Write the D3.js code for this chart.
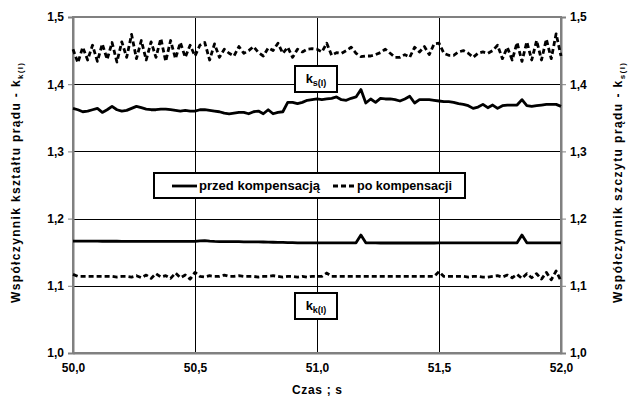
<!DOCTYPE html>
<html lang="pl">
<head>
<meta charset="UTF-8">
<title>Współczynniki prądu</title>
<script src="https://cdn.jsdelivr.net/npm/d3@7"></script>
<style>
    body { margin: 0; background: #fff; }
    text { font-family: 'Liberation Sans', Arial, sans-serif; font-weight: bold; fill: #000; }
</style>
</head>
<body>
<div id="chart"></div>
<script>
// time axis: samples every 0.02 s from 50.0 to 52.0
const czas = d3.range(101).map(i => +(50 + i * 0.02).toFixed(2))

// k_s(I) - crest factor
const ksPrzed = [
    1.364, 1.362, 1.359, 1.360, 1.362, 1.364, 1.358, 1.362, 1.367, 1.362,
    1.360, 1.361, 1.364, 1.367, 1.365, 1.363, 1.362, 1.362, 1.363, 1.363,
    1.362, 1.361, 1.360, 1.361, 1.360, 1.360, 1.362, 1.362, 1.361, 1.360,
    1.359, 1.357, 1.356, 1.357, 1.358, 1.358, 1.356, 1.359, 1.360, 1.356,
    1.362, 1.356, 1.358, 1.359, 1.373, 1.373, 1.371, 1.373, 1.376, 1.377,
    1.378, 1.377, 1.378, 1.379, 1.381, 1.377, 1.376, 1.379, 1.381, 1.392,
    1.372, 1.378, 1.373, 1.379, 1.378, 1.378, 1.377, 1.375, 1.378, 1.382,
    1.372, 1.377, 1.377, 1.377, 1.376, 1.375, 1.374, 1.374, 1.373, 1.371,
    1.370, 1.368, 1.364, 1.366, 1.370, 1.365, 1.369, 1.364, 1.368, 1.369,
    1.369, 1.369, 1.377, 1.368, 1.367, 1.368, 1.369, 1.370, 1.370, 1.370,
    1.367
]
const ksPo = [
    1.452, 1.432, 1.455, 1.436, 1.458, 1.434, 1.460, 1.437, 1.462, 1.433,
    1.463, 1.440, 1.474, 1.438, 1.465, 1.436, 1.463, 1.440, 1.468, 1.434,
    1.465, 1.438, 1.462, 1.440, 1.458, 1.442, 1.458, 1.462, 1.436, 1.460,
    1.440, 1.452, 1.446, 1.442, 1.456, 1.446, 1.450, 1.456, 1.447, 1.442,
    1.454, 1.450, 1.461, 1.446, 1.455, 1.440, 1.452, 1.448, 1.452, 1.453,
    1.452, 1.448, 1.461, 1.443, 1.447, 1.446, 1.450, 1.455, 1.446, 1.441,
    1.442, 1.442, 1.444, 1.447, 1.452, 1.446, 1.440, 1.440, 1.444, 1.440,
    1.455, 1.448, 1.456, 1.444, 1.460, 1.461, 1.446, 1.443, 1.443, 1.448,
    1.450, 1.446, 1.440, 1.446, 1.448, 1.446, 1.450, 1.458, 1.438, 1.455,
    1.436, 1.462, 1.434, 1.463, 1.436, 1.465, 1.436, 1.467, 1.438, 1.475,
    1.442
]

// k_k(I) - form factor
const kkPrzed = [
    1.1665, 1.1665, 1.1664, 1.1664, 1.1664, 1.1664, 1.1663, 1.1663, 1.1663, 1.1663,
    1.1662, 1.1662, 1.1662, 1.1662, 1.1662, 1.1661, 1.1661, 1.1661, 1.1661, 1.1661,
    1.1660, 1.1660, 1.1660, 1.1660, 1.1660, 1.1662, 1.1668, 1.1672, 1.1664, 1.1660,
    1.1658, 1.1658, 1.1657, 1.1657, 1.1656, 1.1655, 1.1655, 1.1654, 1.1653, 1.1652,
    1.1650, 1.1648, 1.1646, 1.1645, 1.1643, 1.1642, 1.1640, 1.1640, 1.1639, 1.1638,
    1.1638, 1.1638, 1.1638, 1.1638, 1.1638, 1.1638, 1.1638, 1.1638, 1.1640, 1.1755,
    1.1640, 1.1638, 1.1638, 1.1637, 1.1637, 1.1637, 1.1637, 1.1637, 1.1637, 1.1637,
    1.1637, 1.1637, 1.1637, 1.1637, 1.1637, 1.1638, 1.1638, 1.1638, 1.1638, 1.1638,
    1.1638, 1.1638, 1.1638, 1.1638, 1.1638, 1.1638, 1.1638, 1.1638, 1.1638, 1.1638,
    1.1638, 1.1640, 1.1755, 1.1640, 1.1638, 1.1638, 1.1638, 1.1638, 1.1638, 1.1638,
    1.1638
]
const kkPo = [
    1.117, 1.114, 1.114, 1.114, 1.114, 1.114, 1.114, 1.114, 1.114, 1.113,
    1.114, 1.114, 1.113, 1.115, 1.112, 1.116, 1.111, 1.118, 1.113, 1.115,
    1.111, 1.119, 1.112, 1.116, 1.110, 1.120, 1.114, 1.113, 1.115, 1.114,
    1.114, 1.116, 1.114, 1.114, 1.115, 1.114, 1.114, 1.114, 1.113, 1.114,
    1.114, 1.115, 1.114, 1.113, 1.114, 1.114, 1.113, 1.114, 1.113, 1.114,
    1.114, 1.114, 1.119, 1.114, 1.114, 1.114, 1.114, 1.114, 1.114, 1.114,
    1.114, 1.114, 1.114, 1.114, 1.114, 1.114, 1.114, 1.114, 1.114, 1.114,
    1.114, 1.114, 1.114, 1.114, 1.114, 1.121, 1.114, 1.114, 1.114, 1.114,
    1.114, 1.113, 1.114, 1.114, 1.113, 1.113, 1.114, 1.115, 1.113, 1.116,
    1.112, 1.117, 1.111, 1.118, 1.112, 1.118, 1.110, 1.120, 1.109, 1.122,
    1.107
]

const xTicks = [50.0, 50.5, 51.0, 51.5, 52.0]
const yTicks = [1.0, 1.1, 1.2, 1.3, 1.4, 1.5]
const legendLabels = ["przed kompensacją", "po kompensacji"]

const width = 628
const height = 403
const margin = { top: 17, right: 67, bottom: 50, left: 73 }
const fmt = d => d3.format(".1f")(d).replace(".", ",")
const px = v => Math.round(v) + 0.5

const x = d3.scaleLinear().domain([50, 52]).range([margin.left, width - margin.right])
const y = d3.scaleLinear().domain([1.0, 1.5]).range([height - margin.bottom, margin.top])

const svg = d3.select("#chart").append("svg")
    .attr("width", width)
    .attr("height", height)

// grid
svg.append("g")
    .selectAll("line")
    .data(yTicks.slice(1, -1))
    .enter().append("line")
    .attr("x1", x(50)).attr("x2", x(52))
    .attr("y1", d => px(y(d))).attr("y2", d => px(y(d)))
    .attr("stroke", "#000").attr("stroke-width", 1)
svg.append("g")
    .selectAll("line")
    .data(xTicks.slice(1, -1))
    .enter().append("line")
    .attr("x1", d => px(x(d))).attr("x2", d => px(x(d)))
    .attr("y1", y(1.0)).attr("y2", y(1.5))
    .attr("stroke", "#000").attr("stroke-width", 1)

// plot frame
svg.append("rect")
    .attr("x", x(50)).attr("y", y(1.5))
    .attr("width", x(52) - x(50)).attr("height", y(1.0) - y(1.5))
    .attr("fill", "none").attr("stroke", "#808080").attr("stroke-width", 2)

// axes
const leftAxis = svg.append("g")
    .attr("transform", `translate(${x(50)},0)`)
    .call(d3.axisLeft(y).tickValues(yTicks).tickFormat(fmt).tickSize(5).tickPadding(4))
const rightAxis = svg.append("g")
    .attr("transform", `translate(${x(52)},0)`)
    .call(d3.axisRight(y).tickValues(yTicks).tickFormat(fmt).tickSize(5).tickPadding(4))
const bottomAxis = svg.append("g")
    .attr("transform", `translate(0,${y(1.0)})`)
    .call(d3.axisBottom(x).tickValues(xTicks).tickFormat(fmt).tickSize(0).tickPadding(10))

for (const a of [leftAxis, rightAxis, bottomAxis]) {
    a.select(".domain").attr("stroke", "#808080").attr("stroke-width", 2)
    a.selectAll(".tick line").attr("stroke", "#808080")
    a.selectAll("text")
        .style("font-family", "'Liberation Sans', Arial, sans-serif")
        .style("font-weight", "bold")
        .style("font-size", "12px")
        .attr("fill", "#000")
}

// series
const line = d3.line()
    .x((d, i) => x(czas[i]))
    .y(d => y(d))

const series = [
    { values: ksPrzed, dash: null },
    { values: ksPo, dash: "5,3" },
    { values: kkPrzed, dash: null },
    { values: kkPo, dash: "5,3" }
]
svg.append("g")
    .selectAll("path")
    .data(series)
    .enter().append("path")
    .attr("d", d => line(d.values))
    .attr("fill", "none")
    .attr("stroke", "#000")
    .attr("stroke-width", 2.8)
    .attr("stroke-linejoin", "round")
    .attr("stroke-dasharray", d => d.dash)

// legend
const leg = svg.append("g")
leg.append("rect")
    .attr("x", 154).attr("y", 173).attr("width", 311).attr("height", 25)
    .attr("fill", "#fff").attr("stroke", "#000").attr("stroke-width", 2)
leg.append("line")
    .attr("x1", 172).attr("x2", 197).attr("y1", 186).attr("y2", 186)
    .attr("stroke", "#000").attr("stroke-width", 2.8)
leg.append("text")
    .attr("x", 199).attr("y", 190).style("font-size", "12px")
    .attr("textLength", 121).attr("lengthAdjust", "spacingAndGlyphs")
    .text(legendLabels[0])
leg.append("line")
    .attr("x1", 333).attr("x2", 356).attr("y1", 186).attr("y2", 186)
    .attr("stroke", "#000").attr("stroke-width", 2.8).attr("stroke-dasharray", "5,3")
leg.append("text")
    .attr("x", 357).attr("y", 190).style("font-size", "12px")
    .attr("textLength", 95).attr("lengthAdjust", "spacingAndGlyphs")
    .text(legendLabels[1])

// annotation boxes
function labelBox(bx, by, sub) {
    const g = svg.append("g")
    g.append("rect")
        .attr("x", bx).attr("y", by).attr("width", 42).attr("height", 26)
        .attr("fill", "#fff").attr("stroke", "#000").attr("stroke-width", 2)
    const t = g.append("text")
        .attr("x", bx + 21).attr("y", by + 17)
        .attr("text-anchor", "middle")
        .style("font-size", "13px")
    t.append("tspan").text("k")
    t.append("tspan").attr("dy", 3).style("font-size", "9px").text(sub)
}
labelBox(295, 66, "s(I)")
labelBox(295, 293, "k(I)")

// axis titles
svg.append("text")
    .attr("x", x(51)).attr("y", 394)
    .attr("text-anchor", "middle")
    .style("font-size", "12px")
    .attr("textLength", 50).attr("lengthAdjust", "spacing")
    .text("Czas ; s")

function axisTitle(cx, cy, word, sub) {
    const t = svg.append("text")
        .attr("transform", `translate(${cx},${cy}) rotate(-90)`)
        .attr("text-anchor", "middle")
        .style("font-size", "12px")
        .attr("textLength", 240).attr("lengthAdjust", "spacing")
    t.append("tspan").text("Współczynnik " + word + " prądu - k")
    t.append("tspan").attr("dy", 3).style("font-size", "8px").text(sub)
}
axisTitle(20, 183, "kształtu", "k(I)")
axisTitle(622, 183, "szczytu", "s(I)")
</script>
</body>
</html>
